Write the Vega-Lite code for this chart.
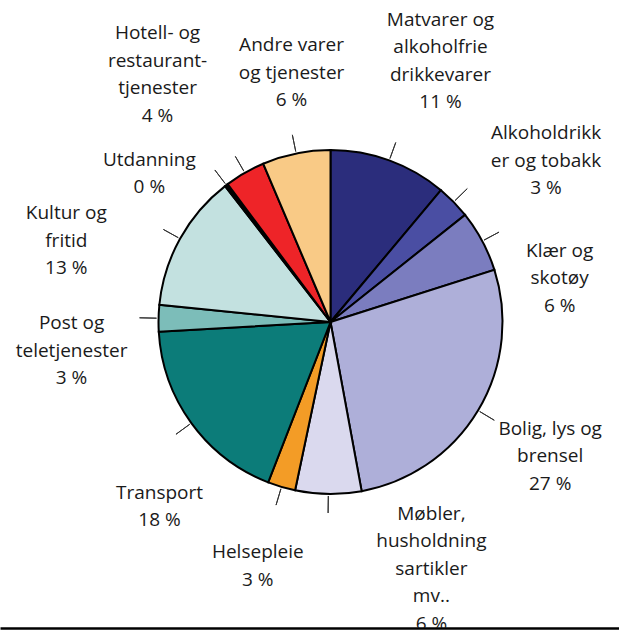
{
  "$schema": "https://vega.github.io/schema/vega-lite/v6.json",
  "width": 577,
  "height": 612,
  "autosize": {"type": "none"},
  "padding": {"left": 42, "top": 16, "right": 0, "bottom": 2},
  "background": "white",
  "config": {
    "view": {"stroke": null},
    "text": {"font": "Open Sans", "fontSize": 19, "lineHeight": 27.5, "lineBreak": "\n", "color": "#1a1a1a", "align": "center", "baseline": "middle"}
  },
  "data": {
    "values": [
      {"order": 1, "category": "Matvarer", "label": "Matvarer og\nalkoholfrie\ndrikkevarer\n11 %", "share": 11.1},
      {"order": 2, "category": "Alkohol", "label": "Alkoholdrikk\ner og tobakk\n3 %", "share": 3.2},
      {"order": 3, "category": "Klær", "label": "Klær og\nskotøy\n6 %", "share": 5.8},
      {"order": 4, "category": "Bolig", "label": "Bolig, lys og\nbrensel\n27 %", "share": 27.0},
      {"order": 5, "category": "Møbler", "label": "Møbler,\nhusholdning\nsartikler\nmv..\n6 %", "share": 6.2},
      {"order": 6, "category": "Helse", "label": "Helsepleie\n3 %", "share": 2.6},
      {"order": 7, "category": "Transport", "label": "Transport\n18 %", "share": 18.2},
      {"order": 8, "category": "Post", "label": "Post og\nteletjenester\n3 %", "share": 2.5},
      {"order": 9, "category": "Kultur", "label": "Kultur og\nfritid\n13 %", "share": 12.9},
      {"order": 10, "category": "Utdanning", "label": "Utdanning\n0 %", "share": 0.3},
      {"order": 11, "category": "Hotell", "label": "Hotell- og\nrestaurant-\ntjenester\n4 %", "share": 3.8},
      {"order": 12, "category": "Andre", "label": "Andre varer\nog tjenester\n6 %", "share": 6.4}
    ]
  },
  "transform": [
    {"window": [{"op": "sum", "field": "share", "as": "cum"}], "sort": [{"field": "order"}], "frame": [null, 0]},
    {"calculate": "datum.cum - datum.share", "as": "start"},
    {"calculate": "datum.cum - datum.share / 2", "as": "mid"}
  ],
  "layer": [
    {
      "mark": {"type": "arc", "outerRadius": 172, "stroke": "black", "strokeWidth": 2},
      "encoding": {
        "theta": {"field": "start", "type": "quantitative", "stack": null, "scale": {"domain": [0, 100], "range": [0, 6.283185307179586]}},
        "theta2": {"field": "cum"},
        "color": {
          "field": "category", "type": "nominal", "legend": null,
          "scale": {
            "domain": ["Matvarer", "Alkohol", "Klær", "Bolig", "Møbler", "Helse", "Transport", "Post", "Kultur", "Utdanning", "Hotell", "Andre"],
            "range": ["#2B2D7C", "#4A4EA3", "#7B7DBF", "#AEAFD9", "#DAD9EE", "#F39C26", "#0C7C79", "#7CBDB9", "#C3E1E0", "#000000", "#EE2428", "#F9CA86"]
          }
        }
      }
    },
    {
      "mark": {"type": "arc", "outerRadius": 191, "innerRadius": 174, "filled": false, "stroke": "#333333", "strokeWidth": 1},
      "encoding": {
        "theta": {"field": "mid", "type": "quantitative", "stack": null},
        "theta2": {"field": "mid"}
      }
    },
    {
      "transform": [{"filter": {"field": "category", "equal": "Matvarer"}}],
      "mark": {"type": "text", "radius": 278, "dx": 15, "dy": -41},
      "encoding": {"theta": {"field": "mid", "type": "quantitative", "stack": null}, "text": {"field": "label"}}
    },
    {
      "transform": [{"filter": {"field": "category", "equal": "Alkohol"}}],
      "mark": {"type": "text", "radius": 262, "dx": 28, "dy": -6},
      "encoding": {"theta": {"field": "mid", "type": "quantitative", "stack": null}, "text": {"field": "label"}}
    },
    {
      "transform": [{"filter": {"field": "category", "equal": "Klær"}}],
      "mark": {"type": "text", "radius": 262, "dx": -2, "dy": 52},
      "encoding": {"theta": {"field": "mid", "type": "quantitative", "stack": null}, "text": {"field": "label"}}
    },
    {
      "transform": [{"filter": {"field": "category", "equal": "Bolig"}}],
      "mark": {"type": "text", "radius": 262, "dx": -5, "dy": -28},
      "encoding": {"theta": {"field": "mid", "type": "quantitative", "stack": null}, "text": {"field": "label"}}
    },
    {
      "transform": [{"filter": {"field": "category", "equal": "Møbler"}}],
      "mark": {"type": "text", "radius": 247, "dx": 104, "dy": -55, "clip": true},
      "encoding": {"theta": {"field": "mid", "type": "quantitative", "stack": null}, "text": {"field": "label"}}
    },
    {
      "transform": [{"filter": {"field": "category", "equal": "Helse"}}],
      "mark": {"type": "text", "radius": 255, "dy": -14},
      "encoding": {"theta": {"field": "mid", "type": "quantitative", "stack": null}, "text": {"field": "label"}}
    },
    {
      "transform": [{"filter": {"field": "category", "equal": "Transport"}}],
      "mark": {"type": "text", "radius": 262, "dx": 41, "dy": 17},
      "encoding": {"theta": {"field": "mid", "type": "quantitative", "stack": null}, "text": {"field": "label"}}
    },
    {
      "transform": [{"filter": {"field": "category", "equal": "Post"}}],
      "mark": {"type": "text", "radius": 262, "dx": 3, "dy": 7},
      "encoding": {"theta": {"field": "mid", "type": "quantitative", "stack": null}, "text": {"field": "label"}}
    },
    {
      "transform": [{"filter": {"field": "category", "equal": "Kultur"}}],
      "mark": {"type": "text", "radius": 262, "dx": -35, "dy": 18},
      "encoding": {"theta": {"field": "mid", "type": "quantitative", "stack": null}, "text": {"field": "label"}}
    },
    {
      "transform": [{"filter": {"field": "category", "equal": "Utdanning"}}],
      "mark": {"type": "text", "radius": 215, "dx": -51, "dy": 9},
      "encoding": {"theta": {"field": "mid", "type": "quantitative", "stack": null}, "text": {"field": "label"}}
    },
    {
      "transform": [{"filter": {"field": "category", "equal": "Hotell"}}],
      "mark": {"type": "text", "radius": 303, "dx": -22, "dy": -26},
      "encoding": {"theta": {"field": "mid", "type": "quantitative", "stack": null}, "text": {"field": "label"}}
    },
    {
      "transform": [{"filter": {"field": "category", "equal": "Andre"}}],
      "mark": {"type": "text", "radius": 250, "dx": 11, "dy": -32},
      "encoding": {"theta": {"field": "mid", "type": "quantitative", "stack": null}, "text": {"field": "label"}}
    },
    {
      "mark": {"type": "point", "opacity": 0},
      "encoding": {
        "x": {
          "field": "share", "type": "quantitative",
          "scale": {"domain": [0, 100], "range": [-42, 577]},
          "axis": {"domain": true, "domainColor": "black", "domainWidth": 2.5, "ticks": false, "labels": false, "title": null, "grid": false}
        }
      }
    }
  ]
}
